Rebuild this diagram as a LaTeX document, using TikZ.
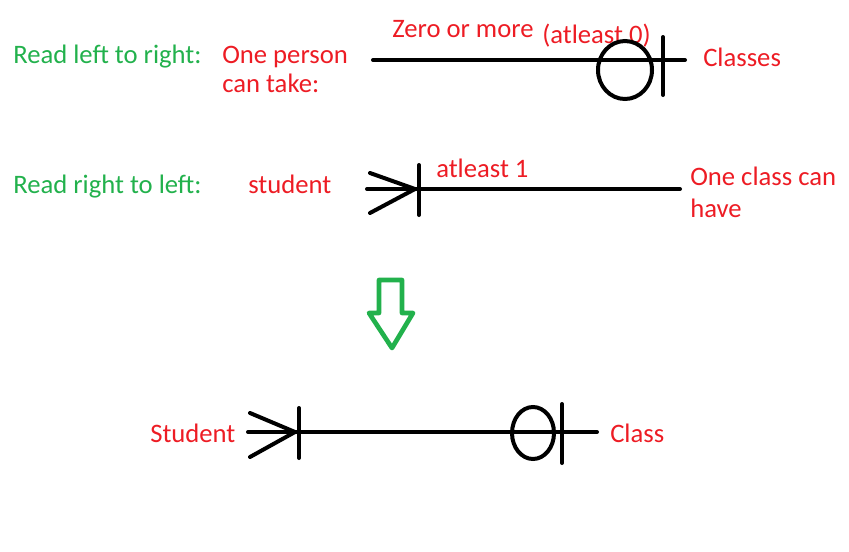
\documentclass[tikz,border=0pt]{standalone}
\usepackage{fontspec}
\setmainfont{Carlito}
\definecolor{pgreen}{RGB}{34,177,76}
\definecolor{pred}{RGB}{237,28,36}
\tikzset{
  lbl/.style={inner sep=0pt, anchor=base west, font=\fontsize{20}{22}\selectfont},
  gtxt/.style={lbl, text=pgreen},
  rtxt/.style={lbl, text=pred},
  ln/.style={line width=3pt, line cap=round, draw=black},
  bigarrow/.style={line width=3.5pt, draw=pgreen, line join=round},
}
\begin{document}
\begin{tikzpicture}[x=0.75pt,y=-0.75pt]
\useasboundingbox (0,0) rectangle (849,551);

% texts
\node[gtxt] (rl) at (13,63) {Read left to right:};
\node[rtxt, align=left, font=\fontsize{20}{21.75}\selectfont] (opt) at (222,92) {One person\\can take:};
\node[rtxt] (zom) at (392,37) {Zero or more};
\node[rtxt] (al0) at (542,43) {(atleast 0)};
\node[rtxt] (cls) at (703,66) {Classes};
\node[gtxt] (rr) at (13,193) {Read right to left:};
\node[rtxt] (stu) at (248,193) {student};
\node[rtxt] (al1) at (436,177) {atleast 1};
\node[rtxt, align=left, font=\fontsize{20}{24}\selectfont] (occ) at (690,217) {One class can\\have};
\node[rtxt] (Stu) at (150,442) {Student};
\node[rtxt] (Cls) at (610,442) {Class};

% line 1: zero or more, exactly one
\coordinate (a1) at (373,60);
\coordinate (a2) at (685,60);
\draw[ln] (a1) -- (a2);
\draw[ln] (625,70) ellipse [x radius=27, y radius=29];
\draw[ln] (663,37) -- (663,95);

% line 2: one or more
\coordinate (b1) at (367,189);
\coordinate (b2) at (680,189);
\draw[ln] (b1) -- (b2);
\draw[ln] (370,173) -- (415,189) -- (370,213);
\draw[ln] (419,165) -- (419,215);

% down arrow
\draw[bigarrow] (379,280) -- (402,280) -- (402,313) -- (413,313) -- (392,348) -- (369,313) -- (379,313) -- cycle;

% line 3: combined
\coordinate (c1) at (248,432);
\coordinate (c2) at (597,432);
\draw[ln] (c1) -- (c2);
\draw[ln] (250,413) -- (295,432) -- (250,457);
\draw[ln] (299,408) -- (299,458);
\draw[ln] (533,433) ellipse [x radius=21, y radius=26];
\draw[ln] (562,404) -- (562,463);
\end{tikzpicture}
\end{document}
